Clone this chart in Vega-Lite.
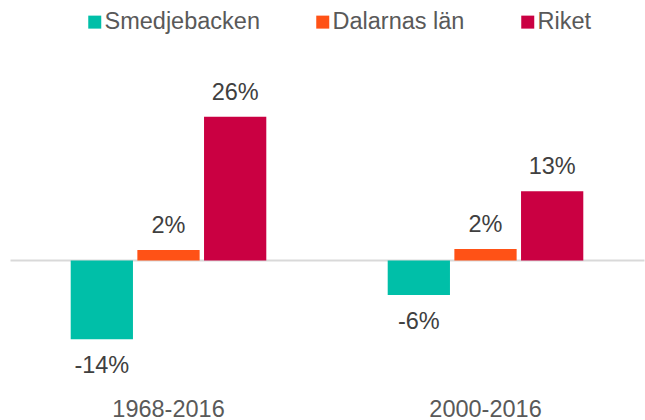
{
  "$schema": "https://vega.github.io/schema/vega-lite/v6.json",
  "autosize": "none",
  "width": 634,
  "height": 274,
  "padding": {"top": 96, "left": 10, "right": 1, "bottom": 50},
  "background": "white",
  "config": {
    "view": {"stroke": null},
    "font": "Liberation Sans",
    "locale": {"number": {"decimal": ".", "thousands": ",", "grouping": [3], "currency": ["$", ""], "minus": "-"}}
  },
  "data": {
    "values": [
      {"period": "1968-2016", "region": "Smedjebacken", "value": -0.144},
      {"period": "1968-2016", "region": "Dalarnas län", "value": 0.019},
      {"period": "1968-2016", "region": "Riket", "value": 0.262},
      {"period": "2000-2016", "region": "Smedjebacken", "value": -0.063},
      {"period": "2000-2016", "region": "Dalarnas län", "value": 0.021},
      {"period": "2000-2016", "region": "Riket", "value": 0.126}
    ]
  },
  "encoding": {
    "x": {
      "field": "period", "type": "nominal",
      "scale": {"paddingInner": 0.383, "paddingOuter": 0.1915},
      "axis": {"title": null, "domain": false, "ticks": false, "tickSize": 0, "labelAngle": 0,
        "labelFontSize": 23.5, "labelColor": "#595959", "labelPadding": 27, "labelFont": "Liberation Sans"}
    },
    "xOffset": {"field": "region", "type": "nominal", "sort": ["Smedjebacken", "Dalarnas län", "Riket"],
      "scale": {"paddingInner": 0.066, "paddingOuter": 0}},
    "y": {"field": "value", "type": "quantitative", "scale": {"domain": [-0.2, 0.3], "nice": false},
      "axis": {"title": null, "values": [0], "grid": true, "gridColor": "#D9D9D9", "gridWidth": 2,
        "labels": false, "ticks": false, "domain": false}}
  },
  "layer": [
    {
      "mark": {"type": "bar"},
      "encoding": {
        "color": {
          "field": "region", "type": "nominal",
          "sort": ["Smedjebacken", "Dalarnas län", "Riket"],
          "scale": {"domain": ["Smedjebacken", "Dalarnas län", "Riket"], "range": ["#00BFA8", "#FF5216", "#CA0042"]},
          "legend": {
            "title": null, "orient": "none", "direction": "horizontal",
            "legendX": 73, "legendY": -86,
            "symbolType": "square", "symbolSize": 169, "symbolStrokeWidth": 0, "symbolOpacity": 1,
            "labelFontSize": 23.5, "labelColor": "#595959", "labelFont": "Liberation Sans",
            "labelOffset": -2, "columnPadding": 51, "padding": 0
          }
        }
      }
    },
    {
      "transform": [{"filter": "datum.value >= 0"}],
      "mark": {"type": "text", "fontSize": 23.5, "color": "#404040", "baseline": "alphabetic", "dy": -17, "font": "Liberation Sans"},
      "encoding": {
        "text": {"field": "value", "type": "quantitative", "format": ".0%"}
      }
    },
    {
      "transform": [{"filter": "datum.value < 0"}],
      "mark": {"type": "text", "fontSize": 23.5, "color": "#404040", "baseline": "top", "dy": 15, "font": "Liberation Sans"},
      "encoding": {
        "text": {"field": "value", "type": "quantitative", "format": ".0%"}
      }
    }
  ]
}
